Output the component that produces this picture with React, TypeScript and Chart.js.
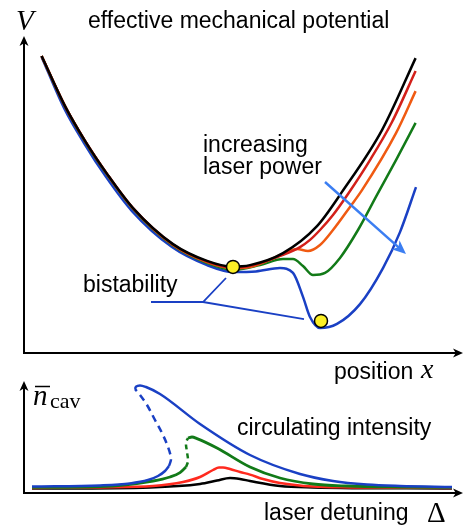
import React, { useEffect, useRef } from "react";
import { Chart, registerables } from "chart.js";
Chart.register(...registerables);

type P = [number, number];

// ---------- top panel: effective mechanical potential V(x) ----------
const potBlack: P[] = [
  [4.4, 99], [10.25, 82.3], [15.25, 70.7], [20.75, 59.7], [27.25, 48.3], [37.25, 36.3],
  [45.75, 30.7], [52, 28.8], [56.5, 29.3], [64.75, 33.3], [73.25, 42.3], [79.5, 53.7],
  [89.5, 74.3], [97.9, 98.3],
];
const potRed: P[] = [
  [4.4, 99], [10.25, 82.3], [15.25, 70.7], [20.75, 59.7], [27.25, 48.3], [37.25, 36.2],
  [45.75, 30.5], [52, 28.5], [56.5, 29], [64.75, 32.7], [69, 35.3], [71.5, 37.7],
  [74, 41], [77.25, 46], [81, 53], [86.5, 64.3], [92, 77], [97.9, 94],
];
const potOrange: P[] = [
  [4.4, 99], [10.25, 82.3], [15.25, 70.7], [20.75, 59.7], [27.25, 48.2], [37.25, 36],
  [45.75, 30.3], [52, 28.3], [56.5, 28.7], [64.75, 33], [68.25, 34.7], [71, 34],
  [74, 36], [77.25, 41], [81.5, 48.7], [84.5, 54.3], [93, 73.3], [97.9, 87.3],
];
const potGreen: P[] = [
  [4.4, 99], [10.25, 82.2], [15.25, 70.5], [20.75, 59.5], [27.25, 48], [37.25, 35.8],
  [45.75, 30], [52.25, 27.7], [59, 29.3], [64.75, 31.3], [67.25, 31.3], [69.75, 29],
  [72.25, 26], [75.25, 26.7], [79, 31.7], [83.5, 41], [88.25, 52.7], [93, 64.3],
  [97.9, 76.7],
];
const potBlue: P[] = [
  [4.4, 98.7], [10, 81.7], [15, 70], [20.5, 58.7], [27, 47.3], [37, 35.3], [45.75, 29.3],
  [52.25, 27], [58, 27.2], [64, 28.3], [67.25, 26.7], [69.75, 18.7], [71.5, 12],
  [74, 8.3], [78.25, 9.7], [84, 16.3], [89.75, 28.3], [94, 40.3], [98, 55.3],
];
const stablePoints: P[] = [[52.25, 28.7], [74.25, 10.7]];
const bistLineA: P[] = [[50.5, 25], [44.75, 17], [31.75, 17]];
const bistLineB: P[] = [[44.75, 17], [70, 11.3]];
const powerArrow: P[] = [[75.25, 57], [95.5, 33]];

// ---------- bottom panel: circulating intensity n_cav(Δ) ----------
const nBlueLow: P[] = [
  [2, 1.6], [19, 1.9], [26.5, 2.4], [31, 3.25], [33.5, 4.25], [35.25, 5.5], [36.25, 6.75],
];
const nBlueUnstable: P[] = [
  [36.25, 6.75], [36.75, 8.5], [36, 11.5], [34.5, 15], [32.75, 18.25], [30.75, 22],
  [29, 24.5], [27.75, 26],
];
const nBlueHigh: P[] = [
  [27.75, 26], [28, 26.6], [29, 26.9], [30.5, 26.5], [34, 24.75], [44, 17.25],
  [56.5, 9.5], [69, 4.75], [77.25, 3], [85.75, 2.1], [94, 1.75], [107, 1.5],
];
const nGreenLow: P[] = [
  [2, 1.4], [19, 1.6], [32.25, 3], [36.5, 4], [39, 5.1], [40.5, 6.5],
];
const nGreenUnstable: P[] = [
  [40.5, 6.5], [41, 8], [40.75, 10.25], [40.5, 12.5], [41, 13.75],
];
const nGreenHigh: P[] = [
  [41, 13.75], [42, 14], [43.25, 13.6], [48.25, 11.25], [56.5, 6.5], [64, 3.75],
  [72.25, 2.25], [80.75, 1.75], [94, 1.5], [107, 1.4],
];
const nRed: P[] = [
  [2, 1.25], [19, 1.4], [32.25, 1.75], [39.75, 2.75], [44, 4], [47.25, 5.75],
  [48.75, 6.4], [49.75, 6.4], [51.5, 6], [54, 5.25], [56.5, 4.6], [59.75, 3.5],
  [64, 2.5], [72.25, 1.6], [81.5, 1.4], [107, 1.25],
];
const nBlack: P[] = [
  [2, 1.1], [31.5, 1.4], [44, 2.25], [48.25, 3.1], [51.5, 3.75], [54, 3.5],
  [56.5, 3], [64, 1.75], [72.25, 1.4], [107, 1.1],
];

const BLACK = "#000000";
const RED = "#d3201a";
const ORANGE = "#f05a12";
const GREEN = "#127a18";
const BLUE = "#1a40c4";
const LIGHTBLUE = "#3b7ef2";
const BRIGHTRED = "#ff2a1f";

const SANS = '"Liberation Sans", Arial, Helvetica, sans-serif';
const SERIF = '"Liberation Serif", "Times New Roman", serif';

const toXY = (a: P[]) => a.map(([x, y]) => ({ x, y }));

// smooth curve that is a function of x
const curve = (data: P[], color: string, width = 2.5) => ({
  data: toXY(data),
  showLine: true,
  borderColor: color,
  borderWidth: width,
  borderCapStyle: "butt" as const,
  pointRadius: 0,
  pointHoverRadius: 0,
  fill: false,
  cubicInterpolationMode: "monotone" as const,
});

// smooth curve along a path (not a function of x), optionally dashed
const pathCurve = (data: P[], color: string, width = 2.5, dash: number[] = []) => ({
  data: toXY(data),
  showLine: true,
  borderColor: color,
  borderWidth: width,
  borderDash: dash,
  borderCapStyle: "butt" as const,
  pointRadius: 0,
  pointHoverRadius: 0,
  fill: false,
  tension: 0.35,
});

function arrowHead(
  ctx: CanvasRenderingContext2D,
  x: number,
  y: number,
  angle: number,
  len: number,
  half: number,
  color: string
) {
  ctx.save();
  ctx.translate(x, y);
  ctx.rotate(angle);
  ctx.beginPath();
  ctx.moveTo(0, 0);
  ctx.lineTo(-len, -half);
  ctx.lineTo(-len * 0.72, 0);
  ctx.lineTo(-len, half);
  ctx.closePath();
  ctx.fillStyle = color;
  ctx.fill();
  ctx.restore();
}

function drawAxes(ctx: CanvasRenderingContext2D, left: number, bottom: number, topTip: number, rightTip: number) {
  ctx.save();
  ctx.strokeStyle = "#000";
  ctx.lineWidth = 2;
  ctx.beginPath();
  ctx.moveTo(left, bottom + 1);
  ctx.lineTo(left, topTip + 6);
  ctx.moveTo(left - 1, bottom);
  ctx.lineTo(rightTip - 6, bottom);
  ctx.stroke();
  arrowHead(ctx, left, topTip, -Math.PI / 2, 10, 4.5, "#000");
  arrowHead(ctx, rightTip, bottom, 0, 10, 4.5, "#000");
  ctx.restore();
}

const topPlugin = {
  id: "topDecor",
  afterDraw(chart: any) {
    const ctx: CanvasRenderingContext2D = chart.ctx;
    const ca = chart.chartArea;
    const xs = chart.scales.x;
    const ys = chart.scales.y;
    drawAxes(ctx, ca.left, ca.bottom, 36, 463);

    // increasing laser power arrow
    const [a, b] = powerArrow;
    const x1 = xs.getPixelForValue(a[0]);
    const y1 = ys.getPixelForValue(a[1]);
    const x2 = xs.getPixelForValue(b[0]);
    const y2 = ys.getPixelForValue(b[1]);
    const ang = Math.atan2(y2 - y1, x2 - x1);
    ctx.save();
    ctx.strokeStyle = LIGHTBLUE;
    ctx.lineWidth = 2.5;
    ctx.beginPath();
    ctx.moveTo(x1, y1);
    ctx.lineTo(x2 - 8 * Math.cos(ang), y2 - 8 * Math.sin(ang));
    ctx.stroke();
    arrowHead(ctx, x2, y2, ang, 14, 6, LIGHTBLUE);
    ctx.restore();

    ctx.save();
    ctx.fillStyle = "#000";
    ctx.textBaseline = "alphabetic";
    ctx.textAlign = "left";
    ctx.font = `italic 29px ${SERIF}`;
    ctx.fillText("V", 16, 30);
    ctx.font = `23px ${SANS}`;
    ctx.fillText("effective mechanical potential", 88, 28);
    ctx.fillText("increasing", 203, 152);
    ctx.fillText("laser power", 203, 174);
    ctx.fillText("bistability", 83, 292);
    ctx.fillText("position", 334, 379);
    ctx.font = `italic 28px ${SERIF}`;
    ctx.fillText("x", 421, 378);
    ctx.restore();
  },
};

const bottomPlugin = {
  id: "bottomDecor",
  afterDraw(chart: any) {
    const ctx: CanvasRenderingContext2D = chart.ctx;
    const ca = chart.chartArea;
    drawAxes(ctx, ca.left, ca.bottom, 11, 463);
    ctx.save();
    ctx.fillStyle = "#000";
    ctx.textBaseline = "alphabetic";
    ctx.textAlign = "left";
    ctx.font = `italic 29px ${SERIF}`;
    ctx.fillText("n", 33, 35);
    // bar over n
    ctx.strokeStyle = "#000";
    ctx.lineWidth = 1.5;
    ctx.beginPath();
    ctx.moveTo(35, 16.5);
    ctx.lineTo(50, 16.5);
    ctx.stroke();
    ctx.font = `22px ${SERIF}`;
    ctx.fillText("cav", 50, 38);
    ctx.font = `23px ${SANS}`;
    ctx.fillText("circulating intensity", 237, 65);
    ctx.fillText("laser detuning", 264, 150);
    ctx.font = `29px ${SERIF}`;
    ctx.fillText("\u0394", 427, 152);
    ctx.restore();
  },
};

const hiddenScales = (xmax: number, ymax: number) => ({
  x: { type: "linear" as const, min: 0, max: xmax, display: false },
  y: { type: "linear" as const, min: 0, max: ymax, display: false },
});

export default function App() {
  const topRef = useRef<HTMLCanvasElement>(null);
  const botRef = useRef<HTMLCanvasElement>(null);

  useEffect(() => {
    const top = new Chart(topRef.current!, {
      type: "scatter",
      data: {
        datasets: [
          {
            data: toXY(stablePoints),
            showLine: false,
            pointRadius: 6.5,
            pointHoverRadius: 6.5,
            pointBackgroundColor: "#fbef26",
            pointBorderColor: "#000",
            pointBorderWidth: 1.5,
          },
          curve(potBlack, BLACK),
          curve(potRed, RED),
          curve(potOrange, ORANGE),
          curve(potGreen, GREEN),
          curve(potBlue, BLUE),
          { ...pathCurve(bistLineA, BLUE, 1.8), tension: 0 },
          { ...pathCurve(bistLineB, BLUE, 1.8), tension: 0 },
        ] as any,
      },
      options: {
        responsive: false,
        animation: false,
        devicePixelRatio: 1,
        events: [],
        layout: { autoPadding: false, padding: { left: 24, right: 0, top: 38, bottom: 37 } },
        scales: hiddenScales(110, 105),
        plugins: { legend: { display: false }, tooltip: { enabled: false } },
      },
      plugins: [topPlugin],
    });

    const bottom = new Chart(botRef.current!, {
      type: "scatter",
      data: {
        datasets: [
          curve(nBlueLow, BLUE),
          pathCurve(nBlueUnstable, BLUE, 2.5, [7, 5]),
          curve(nBlueHigh, BLUE),
          curve(nGreenLow, GREEN, 2.8),
          pathCurve(nGreenUnstable, GREEN, 2.5, [5, 4]),
          curve(nGreenHigh, GREEN, 2.8),
          curve(nRed, BRIGHTRED),
          curve(nBlack, BLACK),
        ] as any,
      },
      options: {
        responsive: false,
        animation: false,
        devicePixelRatio: 1,
        events: [],
        layout: { autoPadding: false, padding: { left: 24, right: 0, top: 11, bottom: 36 } },
        scales: hiddenScales(110, 28),
        plugins: { legend: { display: false }, tooltip: { enabled: false } },
      },
      plugins: [bottomPlugin],
    });

    return () => {
      top.destroy();
      bottom.destroy();
    };
  }, []);

  return (
    <div style={{ position: "absolute", left: 0, top: 0, width: 464, height: 529, background: "#fff" }}>
      <canvas ref={topRef} width={464} height={390} style={{ position: "absolute", left: 0, top: 0 }} />
      <canvas ref={botRef} width={464} height={159} style={{ position: "absolute", left: 0, top: 370 }} />
    </div>
  );
}
